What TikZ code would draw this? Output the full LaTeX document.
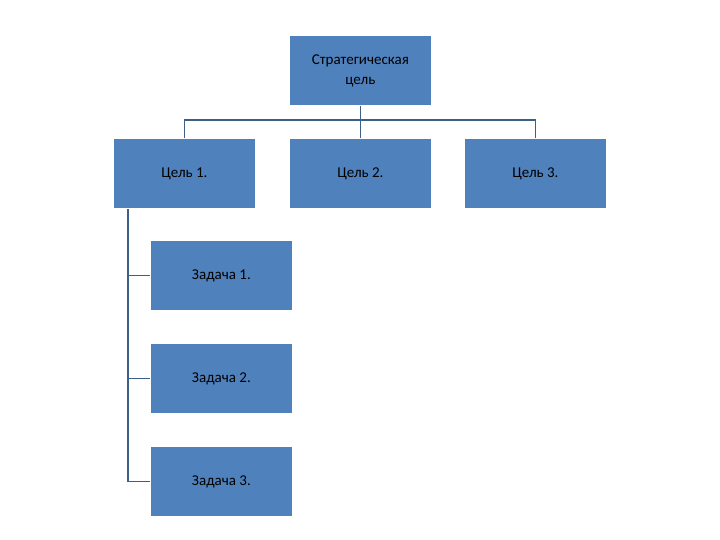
\documentclass[tikz,border=0pt]{standalone}
\usepackage{fontspec}
\setmainfont{Carlito}
\begin{document}
\begin{tikzpicture}[x=1pt,y=-1pt,
  box/.style={draw=white,line width=0.8pt,fill={rgb,255:red,79;green,129;blue,189},minimum width=142pt,minimum height=70pt,inner sep=1pt,align=center,font=\fontsize{15}{20}\selectfont,anchor=north west},
  conn/.style={draw={rgb,255:red,60;green,95;blue,135},line width=1.2pt}]
\useasboundingbox (0,0) rectangle (720,540);
\node[box] (s) at (289,35) {Стратегическая\\цель};
\node[box] (g1) at (113,138) {Цель 1.};
\node[box] (g2) at (289,138) {Цель 2.};
\node[box] (g3) at (464,138) {Цель 3.};
\node[box] (t1) at (150,240) {Задача 1.};
\node[box] (t2) at (150,343) {Задача 2.};
\node[box] (t3) at (150,446) {Задача 3.};
\draw[conn] (s.south) -- (g2.north);
\draw[conn] (g1.north) -- ++(0,-18) -| (g3.north);
\coordinate (c) at ([xshift=15pt]g1.south west);
\draw[conn] (c) |- (t3.west);
\draw[conn] (c|-t1.west) -- (t1.west);
\draw[conn] (c|-t2.west) -- (t2.west);
\end{tikzpicture}
\end{document}
